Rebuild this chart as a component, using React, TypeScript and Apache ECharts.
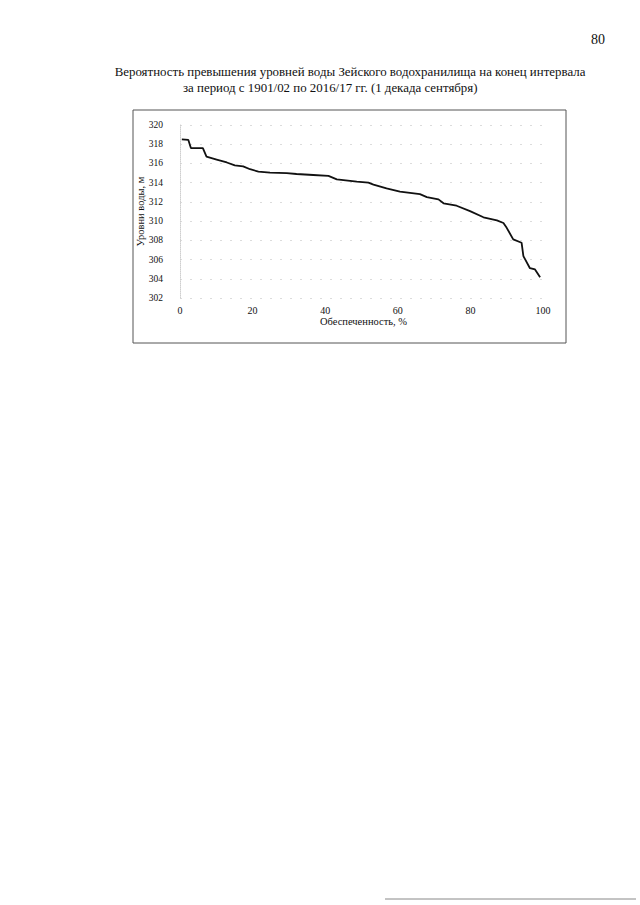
import React, { useEffect, useRef } from "react";
import * as echarts from "echarts";

const titleLine1 = "Вероятность превышения уровней воды Зейского водохранилища на конец интервала";
const titleLine2 = "за период с 1901/02 по 2016/17 гг. (1 декада сентября)";
const pageNumber = "80";
const xAxisTitle = "Обеспеченность, %";
const yAxisTitle = "Уровни воды, м";

const exceedance = [0.5, 2.3, 3.0, 6.3, 7.3, 10.1, 12.9, 15.1, 17.4, 19.3, 21.6, 24.8, 29.4, 32.1, 36.7, 40.9, 43.2, 48.7, 51.9, 53.3, 56.9, 60.6, 66.1, 68.0, 71.2, 72.6, 76.2, 79.9, 83.6, 87.3, 89.1, 90.0, 91.8, 94.1, 94.6, 96.4, 97.8, 99.2];
const levels = [318.5, 318.45, 317.6, 317.6, 316.7, 316.4, 316.1, 315.8, 315.7, 315.4, 315.15, 315.05, 315.0, 314.9, 314.8, 314.7, 314.35, 314.1, 314.0, 313.8, 313.4, 313.06, 312.8, 312.5, 312.26, 311.85, 311.6, 311.04, 310.4, 310.07, 309.8, 309.3, 308.1, 307.75, 306.35, 305.1, 304.97, 304.17];

const serif = "Liberation Serif";

export default function App() {
  const ref = useRef<HTMLDivElement>(null);
  useEffect(() => {
    if (!ref.current) return;
    const chart = echarts.init(ref.current, null, { renderer: "svg" });
    chart.setOption({
      animation: false,
      backgroundColor: "#ffffff",
      grid: { left: 180, right: 97, top: 125, bottom: 607 },
      xAxis: {
        type: "value",
        min: 0,
        max: 100,
        interval: 20,
        name: xAxisTitle,
        nameLocation: "middle",
        nameGap: 18,
        nameMoveOverlap: false,
        nameTextStyle: { fontFamily: serif, fontSize: 10.5, color: "#111", padding: [0, 0, 0, 4] },
        axisLine: { show: false },
        axisTick: { show: false },
        axisLabel: { fontFamily: serif, fontSize: 10, color: "#111", margin: 7 },
        splitLine: { show: false },
      },
      yAxis: {
        type: "value",
        min: 302,
        max: 320,
        interval: 2,
        name: yAxisTitle,
        nameLocation: "middle",
        nameGap: 34,
        nameMoveOverlap: false,
        nameTextStyle: { fontFamily: serif, fontSize: 10.5, color: "#111" },
        axisLine: { show: true, lineStyle: { color: "#cfcfcf", type: "dotted", width: 1 } },
        axisTick: { show: false },
        axisLabel: { fontFamily: serif, fontSize: 9.5, color: "#111", margin: 17 },
        splitLine: { show: true, lineStyle: { color: "#dcdcdc", type: [2, 8], width: 1 } },
      },
      series: [
        {
          type: "line",
          data: exceedance.map((x, i) => [x, levels[i]]),
          showSymbol: false,
          lineStyle: { color: "#111", width: 1.8 },
        },
      ],
      graphic: [
        {
          type: "rect",
          shape: { x: 133, y: 110, width: 433, height: 233 },
          style: { fill: "none", stroke: "#555", lineWidth: 1 },
          silent: true,
        },
        {
          type: "text",
          x: 350,
          y: 72,
          style: { text: titleLine1, fontFamily: serif, fontSize: 12.9, fill: "#111", align: "center", verticalAlign: "middle" },
        },
        {
          type: "text",
          x: 183,
          y: 88,
          style: { text: titleLine2, fontFamily: serif, fontSize: 12.9, fill: "#111", align: "left", verticalAlign: "middle" },
        },
        {
          type: "text",
          x: 598,
          y: 39,
          style: { text: pageNumber, fontFamily: serif, fontSize: 14, fill: "#111", align: "center", verticalAlign: "middle" },
        },
        {
          type: "line",
          shape: { x1: 385, y1: 899, x2: 636, y2: 899 },
          style: { stroke: "#888", lineWidth: 1 },
        },
      ],
    });
    return () => chart.dispose();
  }, []);
  return (
    <div
      ref={ref}
      style={{ position: "fixed", left: 0, top: 0, width: 640, height: 905, background: "#fff" }}
    />
  );
}
